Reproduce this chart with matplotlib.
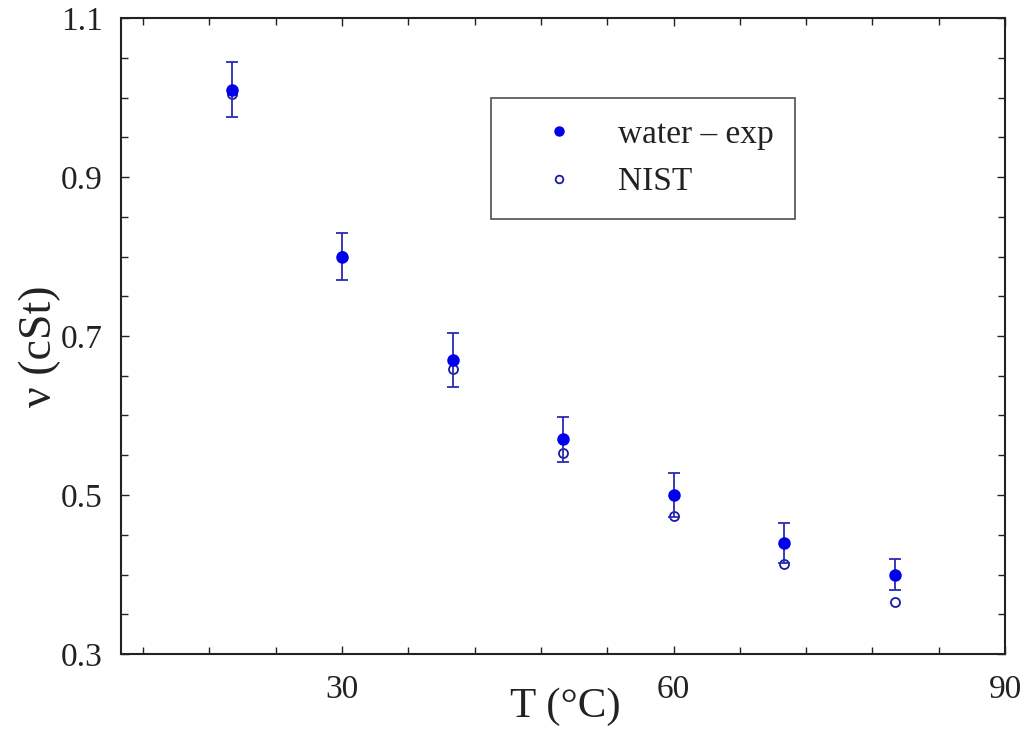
import matplotlib
matplotlib.use("Agg")
import matplotlib.pyplot as plt
from matplotlib.lines import Line2D
from matplotlib.ticker import MultipleLocator, FixedLocator

plt.rcParams['font.family'] = ['Liberation Serif', 'DejaVu Serif']

# Temperature (°C)
temperature = [20, 30, 40, 50, 60, 70, 80]
# Measured kinematic viscosity of water (cSt) and its uncertainty
nu_exp = [1.01, 0.80, 0.67, 0.57, 0.50, 0.44, 0.40]
nu_err = [0.035, 0.030, 0.034, 0.028, 0.028, 0.025, 0.020]
# Reference values
nu_nist = [1.004, 0.801, 0.658, 0.553, 0.474, 0.413, 0.365]

x_ticks = [30, 60, 90]
y_ticks = [0.3, 0.5, 0.7, 0.9, 1.1]

exp_color = '#0000ee'
bar_color = '#2b2bb0'
nist_color = '#1a1aa8'

fig = plt.figure(figsize=(10.24, 7.51), dpi=100)
ax = fig.add_axes([121/1024, 1 - 654/751, (1005-121)/1024, (654-18)/751])

ax.plot(temperature, nu_nist, 'o', markersize=6.5, markerfacecolor='none',
        markeredgecolor=nist_color, markeredgewidth=1.3, zorder=2)
ax.errorbar(temperature, nu_exp, yerr=nu_err, fmt='o', color=exp_color,
            ecolor=bar_color, elinewidth=1.3, capsize=4.5, capthick=1.3,
            markersize=8, markeredgecolor=exp_color, zorder=3)

ax.set_xlim(10, 90)
ax.set_ylim(0.3, 1.1)
ax.xaxis.set_major_locator(FixedLocator(x_ticks))
ax.xaxis.set_minor_locator(FixedLocator(list(range(12, 90, 6))))
ax.yaxis.set_major_locator(FixedLocator(y_ticks))
ax.yaxis.set_minor_locator(MultipleLocator(0.05))
ax.set_xticklabels([str(v) for v in x_ticks])
ax.set_yticklabels([f"{v:.1f}" for v in y_ticks])

ax.tick_params(which='both', direction='in', top=True, right=True,
               labelsize=24, colors='#222222')
ax.tick_params(axis='x', pad=15)
ax.tick_params(axis='y', pad=13)
ax.tick_params(which='major', length=6, width=1)
ax.tick_params(which='minor', length=5, width=1)
for s in ax.spines.values():
    s.set_linewidth(1.5)
    s.set_color('#222222')

fig.text(565/1024, 1 - 707/751, 'T (°C)', fontsize=31, ha='center', va='center',
         color='#222222')
fig.text(40/1024, 1 - 346/751, 'ν (cSt)', fontsize=33, ha='center', va='center',
         rotation=90, color='#222222')

handles = [
    Line2D([], [], linestyle='none', marker='o', markersize=6.5,
           markerfacecolor=exp_color, markeredgecolor=exp_color),
    Line2D([], [], linestyle='none', marker='o', markersize=5.5,
           markerfacecolor='none', markeredgecolor=nist_color, markeredgewidth=1.3),
]
leg = ax.legend(handles, ['water – exp', 'NIST'],
                loc='upper left', bbox_to_anchor=((491-121)/884, 1 - (98-18)/636),
                fontsize=24, frameon=True, fancybox=False, edgecolor='#222222',
                borderpad=0.65, handletextpad=0.36, labelspacing=0.5,
                handlelength=2.8, borderaxespad=0)
leg.get_frame().set_linewidth(1.2)
for t in leg.get_texts():
    t.set_color('#222222')

fig.savefig('out.png', dpi=100)
